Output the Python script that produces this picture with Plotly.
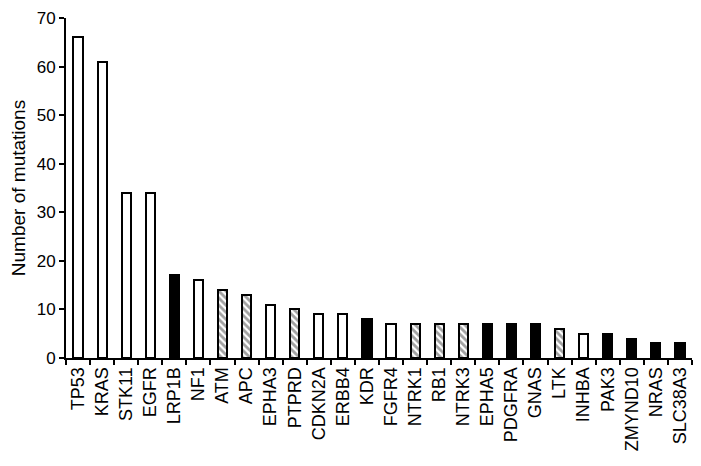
import plotly.graph_objects as go

# genes and mutation counts
genes = ["TP53", "KRAS", "STK11", "EGFR", "LRP1B", "NF1", "ATM", "APC", "EPHA3",
         "PTPRD", "CDKN2A", "ERBB4", "KDR", "FGFR4", "NTRK1", "RB1", "NTRK3",
         "EPHA5", "PDGFRA", "GNAS", "LTK", "INHBA", "PAK3", "ZMYND10", "NRAS",
         "SLC38A3"]
mutations = [66, 61, 34, 34, 17, 16, 14, 13, 11, 10, 9, 9, 8, 7, 7, 7, 7,
             7, 7, 7, 6, 5, 5, 4, 3, 3]
# bar style group: open, solid or hatched
group = ["open", "open", "open", "open", "solid", "open", "hatch", "hatch", "open",
         "hatch", "open", "open", "solid", "open", "hatch", "hatch", "hatch",
         "solid", "solid", "solid", "hatch", "open", "solid", "solid", "solid",
         "solid"]

fill = {"open": "white", "solid": "black", "hatch": "white"}
shape = {"open": "", "solid": "", "hatch": "\\"}

fig = go.Figure(go.Bar(
    x=genes,
    y=mutations,
    width=0.38,
    marker=dict(
        color=[fill[g] for g in group],
        line=dict(color="black", width=2),
        pattern=dict(shape=[shape[g] for g in group], fgcolor="black",
                     bgcolor="white", size=5, solidity=0.55, fillmode="overlay"),
    ),
))

# page body has an 8px margin, so the figure is sized to fit inside the window
fig.update_layout(
    width=685, height=450,
    margin=dict(l=53, r=1, t=7, b=100),
    paper_bgcolor="white", plot_bgcolor="white",
    font=dict(family="Liberation Sans, Arial", size=18, color="black"),
    showlegend=False,
    bargap=0,
)
fig.update_xaxes(
    type="category", range=[-0.5, len(genes) - 0.5],
    showline=True, linecolor="black", linewidth=2,
    ticks="outside", tickson="boundaries", ticklen=5, tickwidth=2, tickcolor="black",
    tickangle=-90, tickfont=dict(size=18), showgrid=False,
)
fig.update_yaxes(
    range=[0, 70], dtick=10,
    showline=True, linecolor="black", linewidth=2,
    ticks="outside", ticklen=5, tickwidth=2, tickcolor="black",
    tickfont=dict(size=17), ticklabeloverflow="allow",
    showgrid=False, zeroline=False,
    title=dict(text="Number of mutations", font=dict(size=19), standoff=14),
)

fig.write_html("out.html")
